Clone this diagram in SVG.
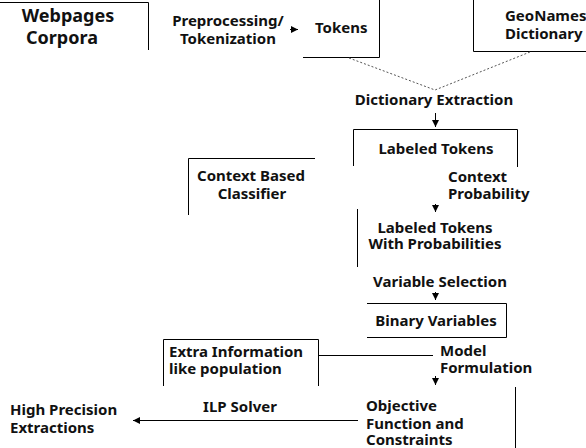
<svg xmlns="http://www.w3.org/2000/svg" width="586" height="448" viewBox="0 0 586 448">
<defs>
<style>
text{font-family:"Noto Sans","DejaVu Sans",sans-serif;font-weight:bold;font-size:15px;fill:#111}
.big{font-size:18px}
.m{text-anchor:middle}
.ln{stroke:#000;stroke-width:1;fill:none}
.dot{stroke:#555;stroke-width:1;stroke-dasharray:2 2;fill:none}
</style>
<marker id="ah" viewBox="0 0 10 10" refX="10" refY="5" markerWidth="7" markerHeight="7" markerUnits="userSpaceOnUse" orient="auto"><path d="M0,0 L10,5 L0,10 z" fill="#000"/></marker>
</defs>
<rect width="586" height="448" fill="#fff"/>
<g id="webpages"><path class="ln" d="M0,2.5 H148.5 V50"/><text class="big m" x="68" y="22">Webpages</text><text class="big m" x="62" y="44">Corpora</text></g>
<g id="preprocessing"><text class="m" x="228" y="26">Preprocessing/</text><text class="m" x="228" y="44">Tokenization</text></g>
<g id="tokens"><path class="ln" d="M379.5,0 V57.5 H303"/><text x="315" y="33">Tokens</text></g>
<g id="geonames"><path class="ln" d="M473.5,0 V51.5 H586"/><text x="505" y="21">GeoNames</text><text x="505" y="39">Dictionary</text></g>
<g id="dictext"><text class="m" x="434" y="105">Dictionary Extraction</text></g>
<g id="labeled"><path class="ln" d="M353.5,166 V129.5 H517.5 V167"/><text class="m" x="436" y="154">Labeled Tokens</text></g>
<g id="classifier"><path class="ln" d="M188.5,215 V158.5 H315"/><text class="m" x="251" y="181">Context Based</text><text class="m" x="252" y="199">Classifier</text></g>
<g id="ctxprob"><text x="448" y="182">Context</text><text x="448" y="199">Probability</text></g>
<g id="labeledprob"><path class="ln" d="M357.5,209 V267"/><text class="m" x="435" y="233">Labeled Tokens</text><text class="m" x="435" y="249">With Probabilities</text></g>
<g id="varsel"><text class="m" x="440" y="287">Variable Selection</text></g>
<g id="binary"><path class="ln" d="M367,303.5 H506.5 V337.5 H367"/><text class="m" x="436" y="326">Binary Variables</text></g>
<g id="extra"><path class="ln" d="M163.5,386 V339.5 H318.5 V386"/><text x="169" y="357">Extra Information</text><text x="169" y="374">like population</text></g>
<g id="model"><text x="440" y="356">Model</text><text x="440" y="373">Formulation</text></g>
<g id="objective"><path class="ln" d="M515.5,387 V448"/><text x="366" y="411">Objective</text><text x="366" y="429">Function and</text><text x="366" y="445">Constraints</text></g>
<g id="ilp"><text class="m" x="240" y="412">ILP Solver</text></g>
<g id="highprec"><text x="10" y="415">High Precision</text><text x="10" y="433">Extractions</text></g>
<g id="connectors">
<path class="ln" d="M290,29.5 H298" marker-end="url(#ah)"/>
<path class="dot" d="M349,58 L435,90 L530,52"/>
<path class="ln" d="M435.5,113 V127" marker-end="url(#ah)"/>
<path class="ln" d="M435.5,204 V212" marker-end="url(#ah)"/>
<path class="ln" d="M435.5,292 V300" marker-end="url(#ah)"/>
<path class="ln" d="M318.5,355.5 H433"/>
<path class="ln" d="M435.5,376 V385" marker-end="url(#ah)"/>
<path class="ln" d="M358,420.5 H133" marker-end="url(#ah)"/>
</g>
</svg>
